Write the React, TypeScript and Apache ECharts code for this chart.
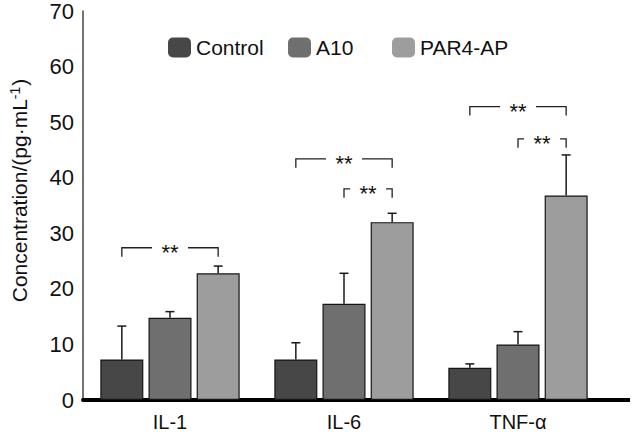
import React, { useEffect, useRef } from "react";
import * as echarts from "echarts";

const categories = ["IL-1", "IL-6", "TNF-α"];
const seriesNames = ["Control", "A10", "PAR4-AP"];
const controlValues = [7.3, 7.3, 5.8];
const a10Values = [14.8, 17.3, 10.0];
const par4Values = [22.8, 32.0, 36.8];
const controlErr = [6.0, 3.0, 0.7];
const a10Err = [1.1, 5.5, 2.3];
const par4Err = [1.3, 1.6, 7.3];
const yMin = 0;
const yMax = 70;
const yInterval = 10;
// significance brackets: category, level, from bar, to bar
const sigCategory = [0, 1, 1, 2, 2];
const sigLevel = [27.4, 43.4, 38.0, 52.8, 47.0];
const sigFrom = [0, 0, 1, 0, 1];
const sigTo = [2, 2, 2, 2, 2];
const sigLabel = ["**", "**", "**", "**", "**"];

const W = 634;
const H = 436;
const GRID_LEFT = 71;
const GRID_RIGHT = 29;
const GRID_TOP = 10.5;
const GRID_BOTTOM = 36;
const BAR_W = 43;
const BAR_GAP = 0.12;
const STEP = BAR_W * (1 + BAR_GAP);
const FONT = "'Liberation Sans', Arial, sans-serif";
const COLORS = ["#474747", "#6f6f6f", "#9d9d9d"];

export default function App() {
  const ref = useRef<HTMLDivElement>(null);
  useEffect(() => {
    if (!ref.current) return;
    document.body.style.margin = "0";
    const chart = echarts.init(ref.current, null, { renderer: "svg" });
    const values = [controlValues, a10Values, par4Values];
    const errs = [controlErr, a10Err, par4Err];
    const errData: number[][] = [];
    values.forEach((vals, s) => {
      vals.forEach((v, c) => errData.push([c, v, errs[s][c], s]));
    });
    const sigData = sigCategory.map((c, i) => [c, sigLevel[i], sigFrom[i], sigTo[i], i]);
    const legendLefts = [163, 283, 387];
    const option: any = {
      animation: false,
      textStyle: { fontFamily: FONT },
      grid: { left: GRID_LEFT, right: GRID_RIGHT, top: GRID_TOP, bottom: GRID_BOTTOM },
      legend: seriesNames.map((n, i) => ({
        data: [n],
        left: legendLefts[i],
        top: 32,
        itemWidth: 23,
        itemHeight: 20,
        itemStyle: { borderWidth: 0 },
        textStyle: { fontSize: 21, color: "#111", fontFamily: FONT },
        selectedMode: false,
      })),
      xAxis: {
        type: "category",
        data: categories,
        axisLine: { lineStyle: { color: "#000", width: 4 } },
        axisTick: { show: false },
        axisLabel: { fontSize: 20, color: "#111", margin: 12, fontFamily: FONT },
      },
      yAxis: {
        type: "value",
        min: yMin,
        max: yMax,
        interval: yInterval,
        splitLine: { show: false },
        axisLine: { show: true, lineStyle: { color: "#444", width: 1.5 } },
        axisTick: { show: false },
        axisLabel: { fontSize: 22, color: "#111", margin: 9, fontFamily: FONT },
        name: "{a|Concentration/(pg·mL}{b|-1}{a|)}",
        nameLocation: "middle",
        nameGap: 52,
        nameTextStyle: {
          padding: [0, 0, 0, 30],
          rich: {
            a: { fontSize: 21, color: "#111", fontFamily: FONT },
            b: { fontSize: 14, color: "#111", fontFamily: FONT, verticalAlign: "top", padding: [0, 1, 9, 0] },
          },
        },
      },
      graphic: [
        {
          type: "line",
          shape: { x1: W - GRID_RIGHT, y1: H - GRID_BOTTOM, x2: W - 4, y2: H - GRID_BOTTOM },
          style: { stroke: "#000", lineWidth: 4 },
        },
      ],
      series: [
        ...seriesNames.map((n, i) => ({
          name: n,
          type: "bar",
          data: values[i],
          barWidth: BAR_W,
          barGap: (BAR_GAP * 100).toFixed(0) + "%",
          itemStyle: { color: COLORS[i], borderColor: "#151515", borderWidth: 1.2 },
        })),
        {
          type: "custom",
          name: "err",
          data: errData,
          encode: { x: 0, y: 1 },
          clip: false,
          z: 5,
          renderItem: (params: any, api: any) => {
            const c = api.value(0);
            const v = api.value(1);
            const e = api.value(2);
            const s = api.value(3);
            const base = api.coord([c, v]);
            const top = api.coord([c, v + e]);
            const x = base[0] + (s - 1) * STEP;
            const st = { stroke: "#1a1a1a", lineWidth: 1.5 };
            return {
              type: "group",
              children: [
                { type: "line", shape: { x1: x, y1: base[1], x2: x, y2: top[1] }, style: st },
                { type: "line", shape: { x1: x - 4.5, y1: top[1], x2: x + 4.5, y2: top[1] }, style: st },
              ],
            };
          },
        },
        {
          type: "custom",
          name: "sig",
          data: sigData,
          encode: { x: 0, y: 1 },
          clip: false,
          z: 5,
          renderItem: (params: any, api: any) => {
            const c = api.value(0);
            const lvl = api.value(1);
            const f = api.value(2);
            const t = api.value(3);
            const idx = api.value(4);
            const p = api.coord([c, lvl]);
            const x1 = p[0] + (f - 1) * STEP;
            const x2 = p[0] + (t - 1) * STEP;
            const y = p[1];
            const mid = (x1 + x2) / 2;
            const gap = 18;
            const drop = 9;
            const st = { stroke: "#222", lineWidth: 1.3, fill: null };
            return {
              type: "group",
              children: [
                { type: "polyline", shape: { points: [[x1, y + drop], [x1, y], [mid - gap, y]] }, style: st },
                { type: "polyline", shape: { points: [[mid + gap, y], [x2, y], [x2, y + drop]] }, style: st },
                {
                  type: "text",
                  x: mid,
                  y: y + 5,
                  style: {
                    text: sigLabel[idx],
                    fontSize: 22,
                    fontFamily: FONT,
                    fill: "#111",
                    align: "center",
                    verticalAlign: "middle",
                  },
                },
              ],
            };
          },
        },
      ],
    };
    chart.setOption(option);
    return () => chart.dispose();
  }, []);
  return <div ref={ref} style={{ width: W, height: H, background: "#fff" }} />;
}
